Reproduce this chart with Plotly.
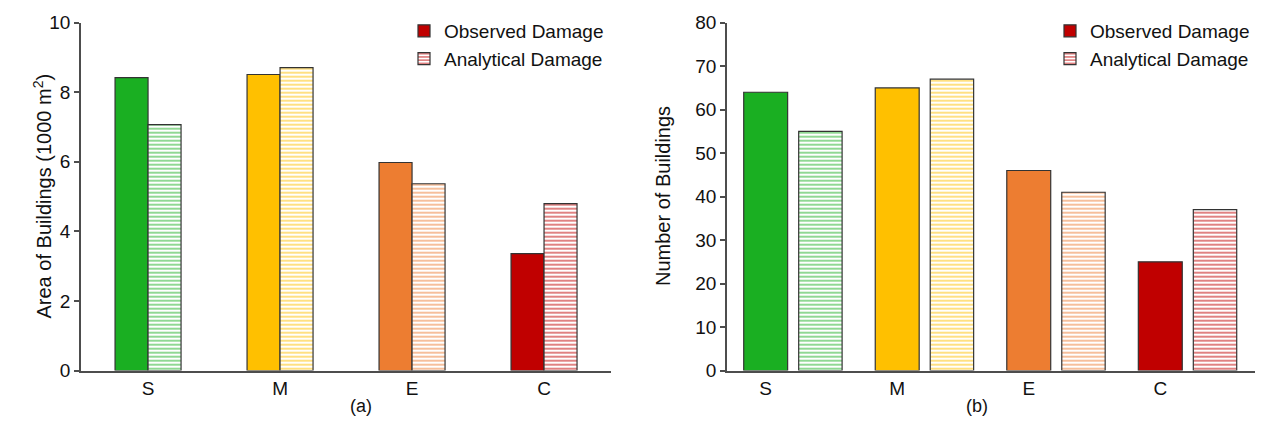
import plotly.graph_objects as go

categories = ["S", "M", "E", "C"]
colors = ["#1aaf22", "#ffc000", "#ed7d31", "#c00000"]

area_observed = [8.42, 8.51, 5.98, 3.36]
area_analytical = [7.07, 8.71, 5.37, 4.80]

count_observed = [64, 65, 46, 25]
count_analytical = [55, 67, 41, 37]

W, H = 1266, 431
FONT = "Liberation Sans, Arial, sans-serif"
TXT = "#111111"
AX = "#4d4d4d"
EDGE = "#333333"

fig = go.Figure()

# order data so that the last category (red) is the first point -> legend swatch red
rev = lambda a: list(a)[::-1]


def add_pair(xaxis, yaxis, obs, ana, w_obs, off_obs, w_ana, off_ana, legend):
    fig.add_trace(go.Bar(
        x=rev(categories), y=rev(obs), name="Observed Damage",
        xaxis=xaxis, yaxis=yaxis, legend=legend,
        width=w_obs, offset=off_obs,
        marker=dict(color=rev(colors), line=dict(color=EDGE, width=1.2)),
    ))
    fig.add_trace(go.Bar(
        x=rev(categories), y=rev(ana), name="Analytical Damage",
        xaxis=xaxis, yaxis=yaxis, legend=legend,
        width=w_ana, offset=off_ana,
        marker=dict(color="white", line=dict(color=EDGE, width=1.2),
                    pattern=dict(shape="-", fgcolor=rev(colors), bgcolor="white",
                                 size=4, solidity=0.35, fgopacity=0.7, fillmode="overlay")),
    ))


add_pair("x", "y", area_observed, area_analytical, 0.25, -0.25, 0.25, 0.0, "legend")
add_pair("x2", "y2", count_observed, count_analytical, 0.334, -0.167, 0.33, 0.251, "legend2")

ydom = [1 - 370.5 / H, 1 - 22.7 / H]

axis_common = dict(showline=True, linecolor=AX, linewidth=1.5, showgrid=False,
                   zeroline=False, tickfont=dict(family=FONT, size=19, color=TXT),
                   automargin=False)

fig.update_layout(
    width=W, height=H,
    margin=dict(l=0, r=0, t=0, b=0, autoexpand=False),
    paper_bgcolor="white", plot_bgcolor="white",
    barmode="overlay",
    font=dict(family=FONT, color=TXT),
    xaxis=dict(domain=[81 / W, 610.7 / W], range=[-0.508, 3.505], anchor="y",
               categoryorder="array", categoryarray=categories, ticks="", **axis_common),
    yaxis=dict(domain=ydom, range=[0, 10], anchor="x", dtick=2, ticks="outside",
               ticklen=5, tickwidth=1.5, tickcolor=AX, **axis_common),
    xaxis2=dict(domain=[727 / W, 1255 / W], range=[-0.294, 3.72], anchor="y2",
                categoryorder="array", categoryarray=categories, ticks="", **axis_common),
    yaxis2=dict(domain=ydom, range=[0, 80], anchor="x2", dtick=10, ticks="outside",
                ticklen=5, tickwidth=1.5, tickcolor=AX, **axis_common),
    legend=dict(x=404 / W, y=1 - 12 / H, xanchor="left", yanchor="top",
                bgcolor="rgba(0,0,0,0)", font=dict(family=FONT, size=19, color=TXT),
                traceorder="normal"),
    legend2=dict(x=1050 / W, y=1 - 12 / H, xanchor="left", yanchor="top",
                 bgcolor="rgba(0,0,0,0)", font=dict(family=FONT, size=19, color=TXT),
                 traceorder="normal"),
    annotations=[
        dict(text="Area of Buildings (1000 m<sup>2</sup>)", x=27 / W, y=1 - 196 / H,
             xref="paper", yref="paper", showarrow=False, textangle=-90,
             font=dict(family=FONT, size=20, color=TXT)),
        dict(text="Number of Buildings", x=663 / W, y=1 - 196 / H,
             xref="paper", yref="paper", showarrow=False, textangle=-90,
             font=dict(family=FONT, size=20, color=TXT)),
        dict(text="(a)", x=348 / W, y=1 - 418 / H, xref="paper", yref="paper",
             showarrow=False, font=dict(family=FONT, size=18, color=TXT)),
        dict(text="(b)", x=990 / W, y=1 - 418 / H, xref="paper", yref="paper",
             showarrow=False, font=dict(family=FONT, size=18, color=TXT)),
    ],
)

fig.write_html("out.html", config={"displayModeBar": False},
               post_script="document.body.style.margin='0';document.body.style.overflow='hidden';")
